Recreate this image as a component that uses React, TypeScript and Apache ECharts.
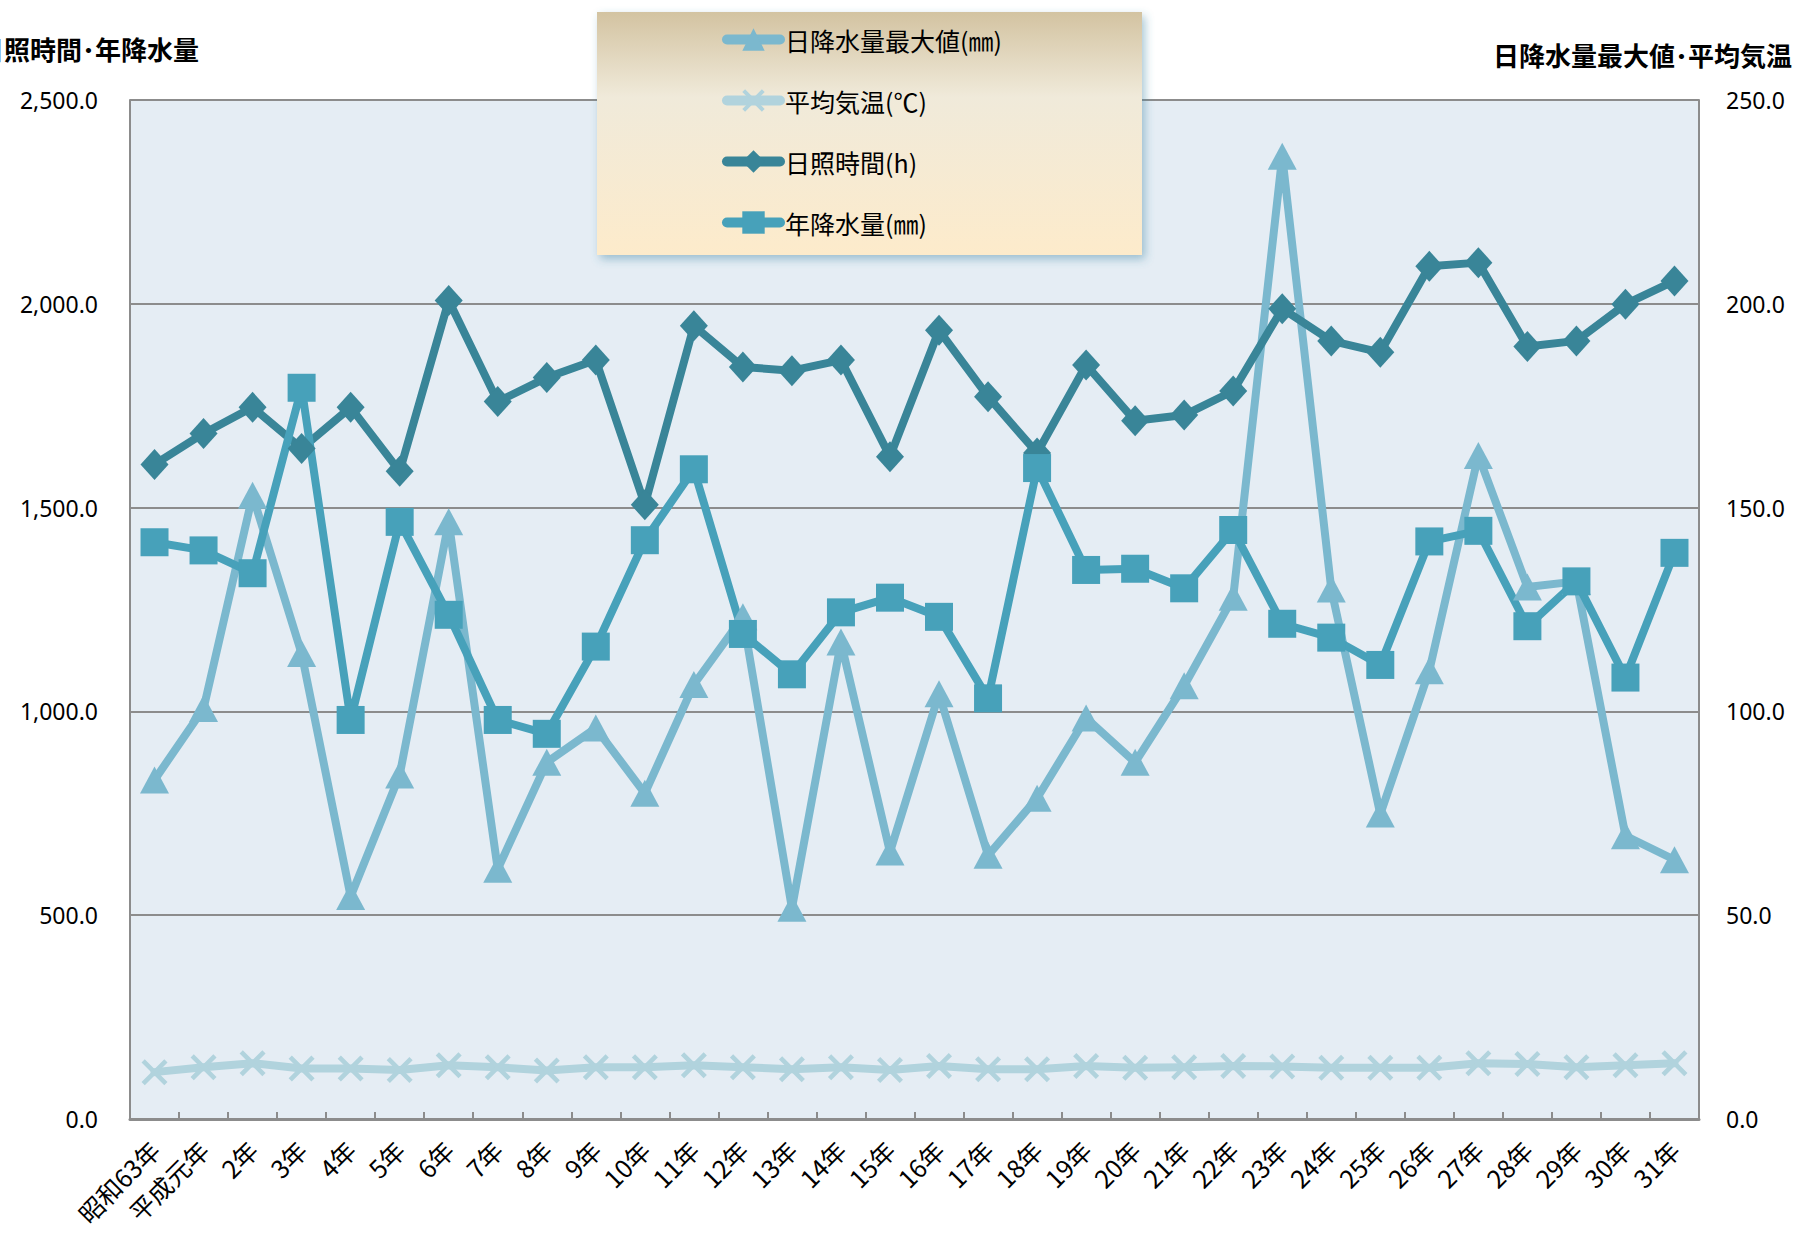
import React, { useEffect, useRef } from "react";
import * as echarts from "echarts";

const categories = [
  "昭和63年", "平成元年", "2年", "3年", "4年", "5年", "6年", "7年", "8年", "9年",
  "10年", "11年", "12年", "13年", "14年", "15年", "16年", "17年", "18年", "19年",
  "20年", "21年", "22年", "23年", "24年", "25年", "26年", "27年", "28年", "29年",
  "30年", "31年",
];

// 日降水量最大値 (mm) — right axis
const maxDailyPrecip = [
  83.2, 100.7, 153.0, 114.2, 54.6, 84.4, 146.5, 61.3, 87.5, 95.9,
  79.9, 106.6, 123.2, 51.7, 117.0, 65.5, 104.3, 64.7, 78.7, 98.4,
  87.5, 106.3, 128.0, 236.2, 130.0, 74.8, 110.0, 162.8, 130.5, 131.9,
  69.5, 63.6,
];

// 平均気温 (℃) — right axis
const meanTemp = [
  11.5, 12.7, 13.7, 12.4, 12.4, 12.0, 13.2, 12.7, 11.9, 12.7,
  12.7, 13.2, 12.7, 12.2, 12.7, 12.0, 13.0, 12.2, 12.2, 13.0,
  12.6, 12.7, 13.0, 12.9, 12.6, 12.6, 12.6, 13.7, 13.5, 12.7,
  13.2, 13.7,
];

// 日照時間 (h) — left axis
const sunshineHours = [
  1606, 1682, 1746, 1645, 1746, 1589, 2008, 1760, 1819, 1862,
  1507, 1946, 1845, 1836, 1862, 1625, 1935, 1772, 1634, 1850,
  1713, 1727, 1786, 1988, 1909, 1881, 2092, 2101, 1895, 1909,
  1999, 2056,
];

// 年降水量 (mm) — left axis
const annualPrecip = [
  1415, 1395, 1339, 1794, 979, 1465, 1237, 979, 945, 1159,
  1420, 1594, 1190, 1091, 1243, 1279, 1232, 1032, 1597, 1347,
  1350, 1302, 1445, 1215, 1181, 1114, 1417, 1443, 1209, 1319,
  1083, 1389,
];

const seriesNames = ["日降水量最大値(㎜)", "平均気温(℃)", "日照時間(h)", "年降水量(㎜)"];
const leftTitle = "日照時間･年降水量";
const rightTitle = "日降水量最大値･平均気温";

const CJK = "'Noto Sans CJK JP', 'Noto Sans', sans-serif";
const NUM = "'Noto Sans', 'Noto Sans CJK JP', sans-serif";
const GRAY = "#8C8C8C";

const xSymbol =
  "path://M2.5,0 L10,7.5 L17.5,0 L20,2.5 L12.5,10 L20,17.5 L17.5,20 L10,12.5 L2.5,20 L0,17.5 L7.5,10 L0,2.5 Z";

const fmt = (v: number) =>
  v.toLocaleString("en-US", { minimumFractionDigits: 1, maximumFractionDigits: 1 });

export default function App() {
  const ref = useRef<HTMLDivElement>(null);

  useEffect(() => {
    if (!ref.current) return;
    const chart = echarts.init(ref.current, undefined, { renderer: "svg" });

    const lineCommon = (color: string) => ({
      type: "line" as const,
      showAllSymbol: true,
      lineStyle: { width: 8, color, cap: "round", join: "round" },
      itemStyle: { color },
      emphasis: { disabled: true },
    });

    chart.setOption({
      animation: false,
      backgroundColor: "#ffffff",
      grid: {
        left: 130,
        right: 99,
        top: 100,
        bottom: 120,
        show: true,
        backgroundColor: "#E5EDF4",
        borderWidth: 0,
        containLabel: false,
        outerBoundsMode: "none",
      },
      legend: {
        orient: "vertical",
        left: 717,
        top: 22,
        itemWidth: 53,
        itemHeight: 28,
        itemGap: 36,
        selectedMode: false,
        data: seriesNames,
        lineStyle: { width: 10, cap: "round" },
        textStyle: { fontSize: 25, fontFamily: CJK, color: "#000" },
      },
      graphic: [
        {
          type: "rect",
          z: 3,
          shape: { x: 597, y: 12, width: 545, height: 243 },
          style: {
            fill: new echarts.graphic.LinearGradient(0, 0, 0, 1, [
              { offset: 0, color: "#D3C3A1" },
              { offset: 0.35, color: "#F0EADA" },
              { offset: 1, color: "#FDEBCB" },
            ]),
            shadowBlur: 10,
            shadowOffsetX: 3,
            shadowOffsetY: 4,
            shadowColor: "rgba(60,130,160,0.45)",
          },
        },
        {
          type: "text",
          z: 5,
          left: -22,
          top: 35,
          style: {
            text: leftTitle,
            fontSize: 26,
            fontWeight: "bold",
            fontFamily: CJK,
            fill: "#000",
          },
        },
        {
          type: "text",
          z: 5,
          right: 6,
          top: 41,
          style: {
            text: rightTitle,
            fontSize: 26,
            fontWeight: "bold",
            fontFamily: CJK,
            fill: "#000",
          },
        },
      ],
      xAxis: {
        type: "category",
        data: categories,
        boundaryGap: true,
        axisLine: { show: true, lineStyle: { color: GRAY, width: 3 } },
        axisTick: { show: true, inside: true, length: 7, lineStyle: { color: GRAY, width: 2 } },
        axisLabel: {
          interval: 0,
          rotate: 45,
          margin: 26,
          fontSize: 25,
          fontFamily: CJK,
          color: "#000",
        },
        splitLine: { show: false },
      },
      yAxis: [
        {
          type: "value",
          min: 0,
          max: 2500,
          interval: 500,
          axisLine: { show: true, lineStyle: { color: GRAY, width: 2 } },
          axisTick: { show: false },
          axisLabel: {
            margin: 32,
            fontSize: 23,
            fontFamily: NUM,
            color: "#000",
            formatter: (v: number) => fmt(v),
          },
          splitLine: { show: true, lineStyle: { color: GRAY, width: 2 } },
        },
        {
          type: "value",
          min: 0,
          max: 250,
          interval: 50,
          position: "right",
          axisLine: { show: true, lineStyle: { color: GRAY, width: 2 } },
          axisTick: { show: false },
          axisLabel: {
            margin: 27,
            fontSize: 23,
            fontFamily: NUM,
            color: "#000",
            formatter: (v: number) => fmt(v),
          },
          splitLine: { show: false },
        },
      ],
      series: [
        {
          ...lineCommon("#7BB8CE"),
          name: seriesNames[0],
          yAxisIndex: 1,
          data: maxDailyPrecip,
          symbol: "triangle",
          symbolSize: [29, 27],
        },
        {
          ...lineCommon("#B1D3DD"),
          name: seriesNames[1],
          yAxisIndex: 1,
          data: meanTemp,
          symbol: xSymbol,
          symbolSize: 26,
        },
        {
          ...lineCommon("#398598"),
          name: seriesNames[2],
          yAxisIndex: 0,
          data: sunshineHours,
          symbol: "diamond",
          symbolSize: [28, 31],
        },
        {
          ...lineCommon("#47A1BA"),
          name: seriesNames[3],
          yAxisIndex: 0,
          data: annualPrecip,
          symbol: "rect",
          symbolSize: 28,
        },
      ],
    });

    return () => chart.dispose();
  }, []);

  return (
    <div
      ref={ref}
      style={{ position: "absolute", left: 0, top: 0, width: 1798, height: 1239 }}
    />
  );
}
